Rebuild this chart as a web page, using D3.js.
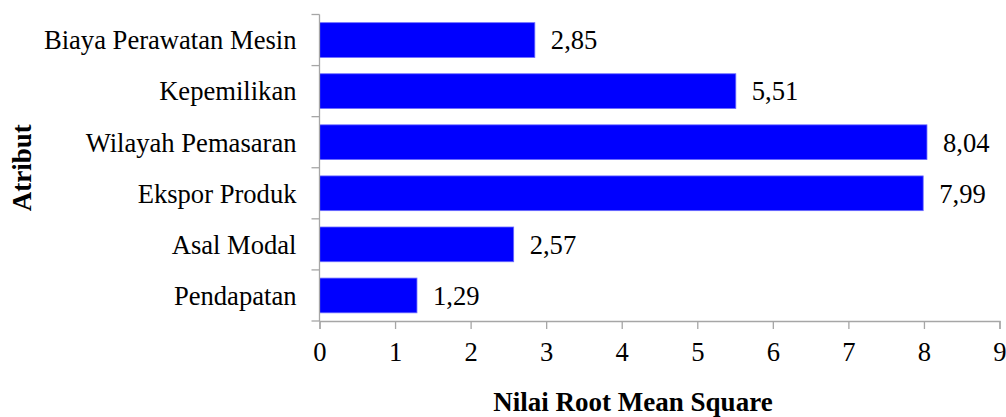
<!DOCTYPE html>
<html>
<head>
<meta charset="utf-8">
<script src="https://cdn.jsdelivr.net/npm/d3@7"></script>
<style>
  html, body { margin: 0; padding: 0; background: #fff; }
  svg { display: block; font-family: "Liberation Serif", "Times New Roman", serif; }
</style>
</head>
<body>
<svg id="chart" width="1006" height="417"></svg>
<script>
// Attributes and their RMS values
const categories = ["Biaya Perawatan Mesin", "Kepemilikan", "Wilayah Pemasaran", "Ekspor Produk", "Asal Modal", "Pendapatan"];
const values = [2.85, 5.51, 8.04, 7.99, 2.57, 1.29];
const xTicks = [0, 1, 2, 3, 4, 5, 6, 7, 8, 9];

const svg = d3.select("#chart");
const plotLeft = 319.5, plotRight = 999.5, plotTop = 14.5, plotBottom = 321;
const fontSize = 26.6;

const x = d3.scaleLinear().domain([0, 9]).range([plotLeft, plotRight]);
const y = d3.scaleBand().domain(categories).range([plotTop, plotBottom]).paddingInner(0.32).paddingOuter(0.16);

const axisColor = "#a6a6a6";

// Bars
svg.append("g").selectAll("rect")
  .data(values)
  .join("rect")
  .attr("x", x(0))
  .attr("y", (d, i) => y(categories[i]))
  .attr("width", d => x(d) - x(0))
  .attr("height", y.bandwidth())
  .attr("fill", "#0000ff")
  .attr("stroke", "#6b6bff")
  .attr("stroke-width", 0.8);

// Value labels
svg.append("g").selectAll("text")
  .data(values)
  .join("text")
  .attr("x", d => x(d) + 16)
  .attr("y", (d, i) => y(categories[i]) + y.bandwidth() / 2)
  .attr("dy", "0.35em")
  .attr("font-size", fontSize)
  .attr("fill", "#000")
  .text(d => d.toFixed(2).replace(".", ","));

// X axis
const xAxis = svg.append("g")
  .attr("transform", `translate(0,${plotBottom})`)
  .call(d3.axisBottom(x).tickValues(xTicks).tickSize(8).tickPadding(13).tickFormat(d3.format("d")));
xAxis.select(".domain").attr("stroke", axisColor).attr("stroke-width", 1.3);
xAxis.selectAll(".tick line").attr("stroke", axisColor).attr("stroke-width", 1.3);
xAxis.selectAll(".tick text").attr("font-size", fontSize).attr("fill", "#000")
  .attr("font-family", "Liberation Serif, Times New Roman, serif");

// Y axis: ticks at band boundaries
const yAxis = svg.append("g").attr("transform", `translate(${plotLeft},0)`);
yAxis.append("line")
  .attr("x1", 0).attr("x2", 0).attr("y1", plotTop).attr("y2", plotBottom)
  .attr("stroke", axisColor).attr("stroke-width", 1.3);
const bounds = d3.range(categories.length + 1).map(i => plotTop + i * (plotBottom - plotTop) / categories.length);
yAxis.selectAll("line.tick")
  .data(bounds)
  .join("line")
  .attr("class", "tick")
  .attr("x1", -8).attr("x2", 0)
  .attr("y1", d => d).attr("y2", d => d)
  .attr("stroke", axisColor).attr("stroke-width", 1.3);
yAxis.selectAll("text")
  .data(categories)
  .join("text")
  .attr("x", -23)
  .attr("y", d => y(d) + y.bandwidth() / 2)
  .attr("dy", "0.35em")
  .attr("text-anchor", "end")
  .attr("font-size", fontSize)
  .attr("fill", "#000")
  .text(d => d);

// Axis titles
svg.append("text")
  .attr("x", 633)
  .attr("y", 411)
  .attr("text-anchor", "middle")
  .attr("font-size", 27)
  .attr("font-weight", "bold")
  .text("Nilai Root Mean Square");

svg.append("text")
  .attr("transform", `translate(31,${(plotTop + plotBottom) / 2}) rotate(-90)`)
  .attr("text-anchor", "middle")
  .attr("font-size", 27)
  .attr("font-weight", "bold")
  .text("Atribut");
</script>
</body>
</html>
